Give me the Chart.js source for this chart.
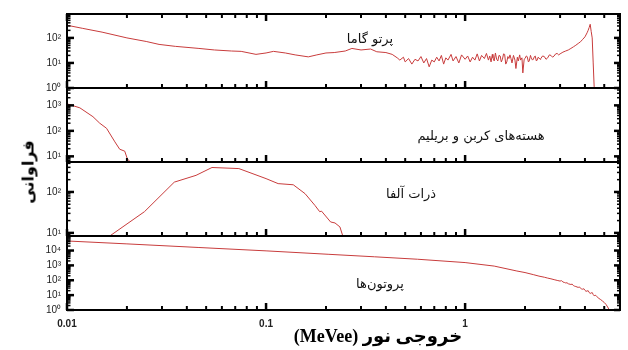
<!DOCTYPE html>
<html>
<head>
<meta charset="utf-8">
<script src="https://cdn.jsdelivr.net/npm/chart.js@4"></script>
<style>
  html, body { margin: 0; padding: 0; background: #fff; }
  #wrap { position: relative; width: 628px; height: 350px; }
  #spectra { position: absolute; left: 0; top: 0; }
  .lbl { position: absolute; font-family: 'DejaVu Sans', sans-serif; font-size: 13px; color: #111;
         transform: translate(-50%, -50%); white-space: nowrap; }
  #xTitle { position: absolute; left: 378px; top: 336px; transform: translate(-50%, -50%);
            font: bold 18px 'Liberation Serif', 'DejaVu Sans', serif; color: #000; white-space: nowrap; }
  #yTitle { position: absolute; left: 28px; top: 172px; transform: translate(-50%, -50%) rotate(-90deg);
            font: bold 16px 'DejaVu Sans', sans-serif; color: #000; white-space: nowrap; }
</style>
</head>
<body>
<div id="wrap">
  <canvas id="spectra" width="628" height="350"></canvas>
  <div class="lbl" dir="rtl" style="left:370px; top:38px;">پرتو گاما</div>
  <div class="lbl" dir="rtl" style="left:481px; top:135px;">هسته‌های کربن و بریلیم</div>
  <div class="lbl" dir="rtl" style="left:411px; top:193px;">ذرات آلفا</div>
  <div class="lbl" dir="rtl" style="left:380px; top:283px;">پروتون‌ها</div>
  <div id="xTitle" dir="rtl">خروجی نور (MeVee)</div>
  <div id="yTitle" dir="rtl">فراوانی</div>
</div>
<script>
// light output (MeVee) and counts
const gammaE = [0.01, 0.012, 0.015, 0.02, 0.025, 0.029, 0.035, 0.046, 0.055, 0.067, 0.075, 0.089, 0.1, 0.109,
  0.125, 0.14, 0.163, 0.18, 0.2, 0.22, 0.25, 0.27, 0.3, 0.335, 0.36, 0.4, 0.43, 0.456, 0.47, 0.49, 0.5, 0.52,
  0.54, 0.56, 0.58, 0.6, 0.62, 0.64, 0.66, 0.68, 0.7, 0.72, 0.74, 0.76, 0.78, 0.8, 0.82, 0.85, 0.87, 0.9, 0.93,
  0.96, 1.0, 1.03, 1.06, 1.09, 1.12, 1.15, 1.18, 1.21, 1.25, 1.28, 1.31, 1.33, 1.35, 1.37, 1.38, 1.4, 1.42,
  1.44, 1.46, 1.48, 1.5, 1.52, 1.54, 1.56, 1.58, 1.6, 1.62, 1.64, 1.66, 1.68, 1.7, 1.72, 1.75, 1.78, 1.8,
  1.83, 1.85, 1.88, 1.9, 1.93, 1.95, 1.98, 2.0, 2.03, 2.05, 2.08, 2.1, 2.13, 2.15, 2.18, 2.2, 2.23, 2.25,
  2.28, 2.3, 2.33, 2.35, 2.38, 2.4, 2.45, 2.5, 2.55, 2.6, 2.65, 2.7, 2.75, 2.8, 2.85, 2.9, 2.95, 3.0, 3.1,
  3.2, 3.3, 3.4, 3.5, 3.6, 3.7, 3.8, 3.9, 4.0, 4.1, 4.15, 4.2, 4.25, 4.3, 4.35, 4.4, 4.45];
const gammaN = [320, 240, 170, 100, 72, 55, 46, 38, 33, 30, 29, 22, 25, 29,
  25, 21, 17.5, 21, 25, 26, 30, 38, 33, 36, 28, 26, 22, 16, 13, 17, 11, 15,
  9, 14, 12, 18, 10, 15, 7, 13, 11, 17, 12, 20, 9, 16, 13, 22, 12, 18, 10,
  21, 14, 19, 11, 17, 13, 23, 12, 20, 15, 24, 13, 19, 11, 22, 16, 12, 25,
  14, 12, 20, 19, 11, 14, 23, 22, 9, 11, 18, 15, 21, 15, 10, 20, 13, 6,
  17, 12, 21, 13, 16, 4, 14, 15, 19, 18, 11, 12, 20, 16, 13, 14, 18, 19,
  12, 13, 17, 17, 14, 15, 19, 18, 14, 16, 21, 20, 17, 19, 23, 24, 21, 23, 27,
  30, 33, 38, 44, 51, 60, 70, 88, 110, 160, 200, 260, 350, 180, 100, 10, 1.1];

const carbonE = [0.01, 0.0116, 0.0135, 0.0146, 0.0158, 0.0174, 0.0184, 0.0195, 0.0201, 0.0208];
const carbonN = [1150, 800, 360, 200, 126, 37, 19, 16, 8, 6];

const alphaE = [0.0164, 0.0245, 0.0346, 0.0445, 0.0535, 0.073, 0.1, 0.115, 0.137, 0.157, 0.176, 0.186,
  0.19, 0.211, 0.222, 0.235, 0.243];
const alphaN = [8.4, 33, 174, 255, 396, 373, 212, 160, 150, 91, 47, 33, 34, 18.5, 17.5, 14, 8.4];

const protonE = [0.01, 0.02, 0.046, 0.1, 0.205, 0.35, 0.576, 1.0, 1.4, 1.82, 2.0, 2.2, 2.35, 2.5, 2.6, 2.7,
  2.8, 2.9, 3.0, 3.05, 3.1, 3.15, 3.2, 3.25, 3.3, 3.4, 3.45, 3.5, 3.55, 3.6, 3.7, 3.75, 3.8, 3.85, 3.9, 3.95,
  4.0, 4.05, 4.1, 4.15, 4.2, 4.25, 4.3, 4.35, 4.4, 4.45, 4.5, 4.57, 4.7, 4.8, 4.9, 5.0, 5.1, 5.2, 5.3];
const protonN = [44000, 28000, 16000, 9500, 5600, 3800, 2600, 1550, 900, 420, 330, 240, 190, 160, 140, 125,
  110, 98, 88, 95, 76, 72, 66, 68, 58, 52, 55, 44, 40, 38, 33, 36, 29, 26, 25, 27,
  21, 18, 19, 20, 15, 13, 14, 15, 11, 9, 10, 8.5, 6, 5, 4, 3.2, 2.4, 1.6, 1];

// axis ranges (top panel first)
const panelIds = ['yGamma', 'yCarbon', 'yAlpha', 'yProton'];
const panelMin = [1, 6, 8.4, 1];
const panelMax = [900, 4800, 540, 95000];
const xTickLabels = ['0.01', '0.1', '1'];
const sup = ['⁰', '¹', '²', '³', '⁴', '⁵'];

document.addEventListener('DOMContentLoaded', function () {
    const toPoints = (xs, ys) => xs.map((v, i) => ({ x: v, y: ys[i] }));
    const isDecade = v => Math.abs(Math.log10(v) - Math.round(Math.log10(v))) < 1e-6;

    // minor positions 1..9 x 10^n inside a range
    function logSteps(min, max) {
        const out = [];
        for (let d = Math.floor(Math.log10(min)); d <= Math.ceil(Math.log10(max)); d++) {
            for (let k = 1; k <= 9; k++) {
                const v = +(k * Math.pow(10, d)).toPrecision(6);
                if (v >= min * 0.9999 && v <= max) out.push(v);
            }
        }
        return out;
    }

    function yScale(i) {
        return {
            type: 'logarithmic',
            position: 'left',
            stack: 'panels',
            stackWeight: 1,
            min: panelMin[i],
            max: panelMax[i],
            grid: { display: false, drawTicks: false },
            border: { display: false },
            afterBuildTicks: s => {
                s.ticks = logSteps(panelMin[i], panelMax[i]).filter(isDecade).map(v => ({ value: v }));
            },
            afterFit: s => { s.width = 67; },
            ticks: {
                padding: 6,
                autoSkip: false,
                color: '#222',
                font: { family: 'Liberation Sans', size: 10 },
                callback: v => '10' + sup[Math.round(Math.log10(v))]
            }
        };
    }

    // inward tick marks and panel frames
    const framePlugin = {
        id: 'frames',
        afterDraw(chart) {
            const ctx = chart.ctx;
            const x = chart.scales.x;
            const left = chart.chartArea.left, right = chart.chartArea.right;
            const seg = (x1, y1, x2, y2) => { ctx.beginPath(); ctx.moveTo(x1, y1); ctx.lineTo(x2, y2); ctx.stroke(); };
            ctx.save();
            ctx.strokeStyle = '#000';
            panelIds.forEach((id, i) => {
                const s = chart.scales[id];
                const top = s.top, bottom = s.bottom;
                x.ticks.forEach(t => {
                    const px = x.getPixelForValue(t.value);
                    const big = isDecade(t.value);
                    ctx.lineWidth = big ? 2.5 : 2;
                    const len = big ? 7 : 4;
                    seg(px, bottom, px, bottom - len);
                    if (i === 0) seg(px, top, px, top + len);
                });
                logSteps(panelMin[i], panelMax[i]).forEach(v => {
                    const py = s.getPixelForValue(v);
                    const big = isDecade(v);
                    ctx.lineWidth = big ? 2.5 : 1.5;
                    seg(left, py, left + (big ? 7 : 3.5), py);
                    seg(right, py, right - (big ? 6 : 3), py);
                });
                ctx.lineWidth = 2;
                ctx.strokeRect(left, top, right - left, bottom - top);
            });
            ctx.restore();
        }
    };

    const lineStyle = { showLine: true, pointRadius: 0, borderWidth: 1, tension: 0, borderColor: 'rgb(200,60,60)' };

    const spectraConfig = {
        type: 'scatter',
        data: {
            datasets: [
                Object.assign({ label: 'gamma', data: toPoints(gammaE, gammaN), yAxisID: 'yGamma' }, lineStyle),
                Object.assign({ label: 'carbon', data: toPoints(carbonE, carbonN), yAxisID: 'yCarbon' }, lineStyle),
                Object.assign({ label: 'alpha', data: toPoints(alphaE, alphaN), yAxisID: 'yAlpha' }, lineStyle),
                Object.assign({ label: 'proton', data: toPoints(protonE, protonN), yAxisID: 'yProton' }, lineStyle)
            ]
        },
        options: {
            responsive: false,
            animation: false,
            layout: { padding: { top: 14, right: 4, left: 0, bottom: 0 } },
            plugins: { legend: { display: false }, tooltip: { enabled: false } },
            scales: {
                x: {
                    type: 'logarithmic',
                    position: 'bottom',
                    min: 0.01,
                    max: 6,
                    grid: { display: false, drawTicks: false },
                    border: { display: false },
                    afterBuildTicks: s => { s.ticks = logSteps(0.01, 6).map(v => ({ value: v })); },
                    afterFit: s => { s.height = 40; },
                    ticks: {
                        padding: 8,
                        color: '#222',
                        maxRotation: 0,
                        autoSkip: false,
                        font: { family: 'Liberation Sans', size: 10, weight: 'bold' },
                        callback: v => isDecade(v) ? xTickLabels[Math.round(Math.log10(v)) + 2] : ''
                    }
                },
                // left stacked axes are laid out last-defined on top
                yProton: yScale(3),
                yAlpha: yScale(2),
                yCarbon: yScale(1),
                yGamma: yScale(0)
            }
        },
        plugins: [framePlugin]
    };

    const spectraChart = new Chart(document.getElementById('spectra'), spectraConfig);
});
</script>
</body>
</html>
